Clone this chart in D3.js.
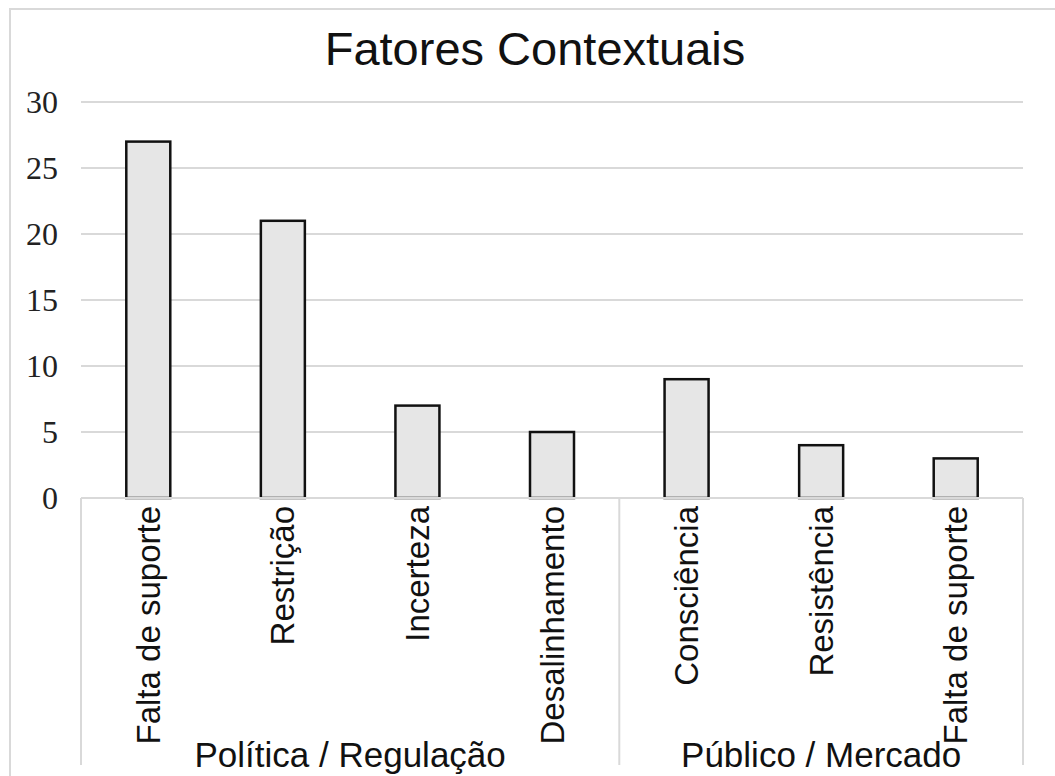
<!DOCTYPE html>
<html>
<head>
<meta charset="utf-8">
<script src="https://cdn.jsdelivr.net/npm/d3@7"></script>
<style>
  html, body { margin: 0; padding: 0; background: #fff; }
  svg { display: block; }
</style>
</head>
<body>
<svg id="chart" width="1055" height="776"></svg>
<script>
// Contextual factors, grouped by domain
const categories = ["Falta de suporte", "Restrição", "Incerteza", "Desalinhamento",
                    "Consciência", "Resistência", "Falta de suporte"];
const groups = ["Política / Regulação", "Política / Regulação", "Política / Regulação", "Política / Regulação",
                "Público / Mercado", "Público / Mercado", "Público / Mercado"];
const values = [27, 21, 7, 5, 9, 4, 3];
const yTicks = [0, 5, 10, 15, 20, 25, 30];
const title = "Fatores Contextuais";

const svg = d3.select("#chart");
const W = 1055, H = 776;
const plotLeft = 81, plotRight = 1023, plotTop = 102, plotBottom = 498;
const sans = "'Liberation Sans', Arial, Helvetica, sans-serif";
const serif = "'Liberation Serif', 'Times New Roman', serif";
const gridColor = "#d9d9d9";

// Frame around the chart area
svg.append("rect")
  .attr("x", 10).attr("y", 9)
  .attr("width", W + 20).attr("height", H + 20)
  .attr("fill", "none").attr("stroke", gridColor).attr("stroke-width", 2);

const idx = d3.range(values.length);
const x = d3.scaleBand().domain(idx).range([plotLeft, plotRight]).paddingInner(0).paddingOuter(0);
const y = d3.scaleLinear().domain([0, 30]).range([plotBottom, plotTop]);
const barW = 44;

// Horizontal gridlines
svg.append("g").selectAll("line").data(yTicks.filter(t => t > 0)).join("line")
  .attr("x1", plotLeft).attr("x2", plotRight)
  .attr("y1", d => y(d)).attr("y2", d => y(d))
  .attr("stroke", gridColor).attr("stroke-width", 2);

// Y axis labels
const yAxis = d3.axisLeft(y).tickValues(yTicks).tickSize(0).tickPadding(0);
const gy = svg.append("g").attr("transform", `translate(58,0)`).call(yAxis);
gy.select(".domain").remove();
gy.selectAll("text")
  .attr("font-family", serif).attr("font-size", 32).attr("fill", "#222")
  .attr("dy", "0.34em");

// Bars
svg.append("g").selectAll("rect").data(values).join("rect")
  .attr("x", (d, i) => x(i) + x.bandwidth() / 2 - barW / 2)
  .attr("y", d => y(d))
  .attr("width", barW)
  .attr("height", d => y(0) - y(d))
  .attr("fill", "#e6e6e6")
  .attr("stroke", "#111").attr("stroke-width", 2.5);

// Category axis: baseline and group separators
const axisLine = svg.append("g").attr("stroke", gridColor).attr("stroke-width", 2);
axisLine.append("line").attr("x1", plotLeft).attr("x2", plotRight).attr("y1", plotBottom).attr("y2", plotBottom);

const groupNames = Array.from(new Set(groups));
const groupSpans = groupNames.map(g => {
  const members = idx.filter(i => groups[i] === g);
  const x0 = x(members[0]);
  const x1 = x(members[members.length - 1]) + x.bandwidth();
  return { name: g, x0, x1 };
});
const edges = [plotLeft, ...groupSpans.map(s => s.x1)];
axisLine.selectAll("line.sep").data(edges).join("line")
  .attr("class", "sep")
  .attr("x1", d => d).attr("x2", d => d)
  .attr("y1", plotBottom).attr("y2", 765);

// Rotated category labels
svg.append("g").selectAll("text").data(categories).join("text")
  .attr("transform", (d, i) => `translate(${x(i) + x.bandwidth() / 2},${plotBottom + 8}) rotate(-90)`)
  .attr("text-anchor", "end")
  .attr("dy", "0.35em")
  .attr("font-family", sans).attr("font-size", 33).attr("fill", "#111")
  .text(d => d);

// Group labels
svg.append("g").selectAll("text").data(groupSpans).join("text")
  .attr("x", d => (d.x0 + d.x1) / 2)
  .attr("y", 767)
  .attr("text-anchor", "middle")
  .attr("font-family", sans).attr("font-size", 35).attr("fill", "#111")
  .text(d => d.name);

// Title
svg.append("text")
  .attr("x", 535).attr("y", 65)
  .attr("text-anchor", "middle")
  .attr("font-family", sans).attr("font-size", 47).attr("fill", "#111")
  .text(title);
</script>
</body>
</html>
